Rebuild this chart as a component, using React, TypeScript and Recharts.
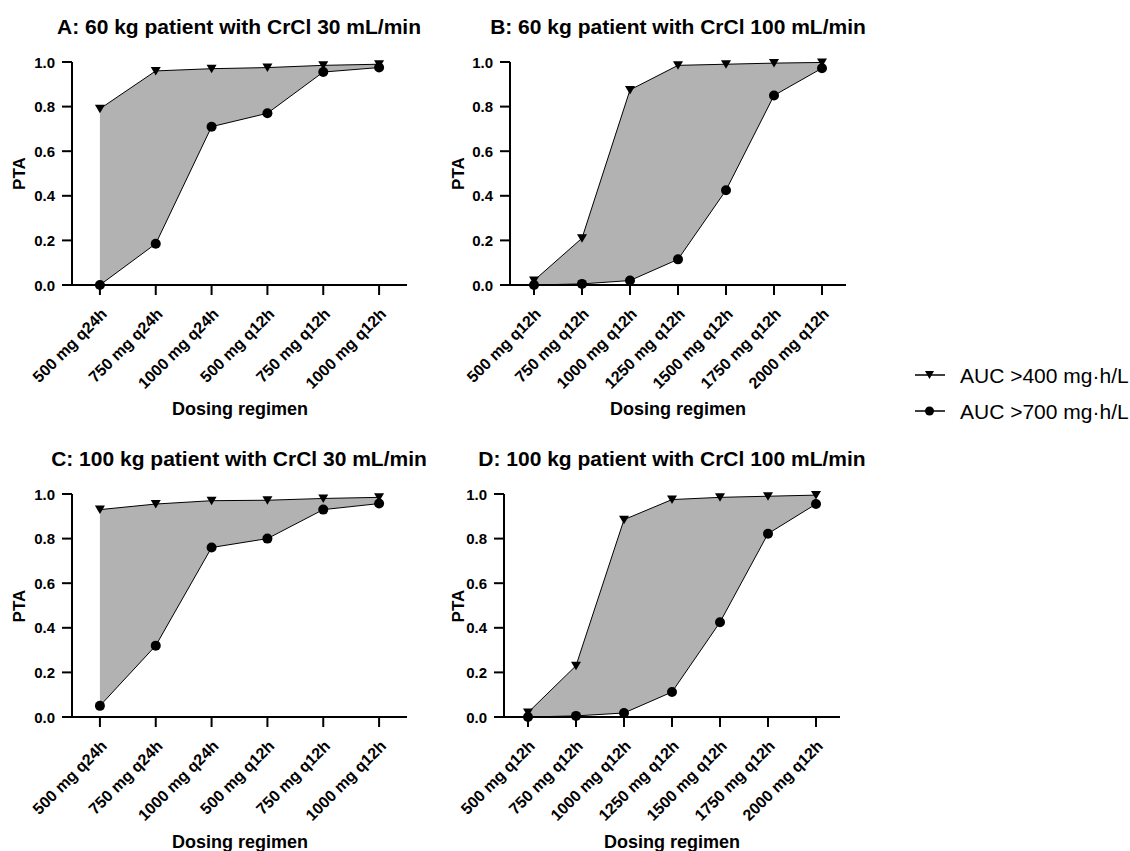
import React from 'react';
import { ComposedChart, Area, Line, XAxis, YAxis } from 'recharts';

const regimensQ24 = ['500 mg q24h', '750 mg q24h', '1000 mg q24h', '500 mg q12h', '750 mg q12h', '1000 mg q12h'];
const regimensQ12 = ['500 mg q12h', '750 mg q12h', '1000 mg q12h', '1250 mg q12h', '1500 mg q12h', '1750 mg q12h', '2000 mg q12h'];

const panelA400 = [0.79, 0.96, 0.97, 0.975, 0.985, 0.99];
const panelA700 = [0.0, 0.185, 0.71, 0.77, 0.955, 0.975];
const panelB400 = [0.02, 0.21, 0.875, 0.985, 0.99, 0.995, 0.998];
const panelB700 = [0.0, 0.005, 0.02, 0.115, 0.425, 0.85, 0.972];
const panelC400 = [0.93, 0.955, 0.97, 0.972, 0.98, 0.985];
const panelC700 = [0.05, 0.32, 0.76, 0.8, 0.93, 0.957];
const panelD400 = [0.02, 0.23, 0.885, 0.975, 0.985, 0.99, 0.995];
const panelD700 = [0.0, 0.005, 0.018, 0.112, 0.425, 0.822, 0.955];

const yTicks = [0, 0.2, 0.4, 0.6, 0.8, 1.0];

const titles = [
  'A: 60 kg patient with CrCl 30 mL/min',
  'B: 60 kg patient with CrCl 100 mL/min',
  'C: 100 kg patient with CrCl 30 mL/min',
  'D: 100 kg patient with CrCl 100 mL/min',
];
const legendLabels = ['AUC >400 mg\u00b7h/L', 'AUC >700 mg\u00b7h/L'];

const FONT = '"Liberation Sans", Arial, Helvetica, sans-serif';
const PLOT_H = 223;

const XTick = (props: any) => {
  const { x, y, payload } = props;
  return (
    <g transform={`translate(${x + 8},${y + 18})`}>
      <text
        x={0}
        y={0}
        textAnchor="end"
        transform="rotate(-45)"
        fontFamily={FONT}
        fontWeight="bold"
        fontSize={16}
        fill="#000"
      >
        {payload.value}
      </text>
    </g>
  );
};

const YTick = (props: any) => {
  const { x, y, payload } = props;
  return (
    <text
      x={x}
      y={y}
      dy={5.5}
      textAnchor="end"
      fontFamily={FONT}
      fontWeight="bold"
      fontSize={15}
      fill="#000"
    >
      {Number(payload.value).toFixed(1)}
    </text>
  );
};

const TriangleDot = (props: any) => {
  const { cx, cy, index } = props;
  if (cx == null || cy == null) return <g key={`t${index}`} />;
  return (
    <path
      key={`t${index}`}
      d={`M${cx - 5},${cy - 4} L${cx + 5},${cy - 4} L${cx},${cy + 4.5} Z`}
      fill="#000"
      stroke="none"
    />
  );
};

const CircleDot = (props: any) => {
  const { cx, cy, index } = props;
  if (cx == null || cy == null) return <g key={`c${index}`} />;
  return <circle key={`c${index}`} cx={cx} cy={cy} r={5} fill="#000" stroke="none" />;
};

type PanelProps = {
  plotLeft: number;
  plotTop: number;
  plotW: number;
  cats: string[];
  upper: number[];
  lower: number[];
};

const Panel = ({ plotLeft, plotTop, plotW, cats, upper, lower }: PanelProps) => {
  const data = cats.map((c, i) => ({
    regimen: c,
    auc400: upper[i],
    auc700: lower[i],
    range: [lower[i], upper[i]],
  }));
  const mTop = 20;
  const mLeft = 22;
  const yW = 50;
  const mRight = 20;
  const xH = 125;
  return (
    <div style={{ position: 'absolute', left: plotLeft - mLeft - yW, top: plotTop - mTop }}>
      <ComposedChart
        width={mLeft + yW + plotW + mRight}
        height={mTop + PLOT_H + xH}
        data={data}
        margin={{ top: mTop, right: mRight, left: mLeft, bottom: 0 }}
      >
        <XAxis
          dataKey="regimen"
          type="category"
          scale="band"
          interval={0}
          tickSize={10}
          height={xH}
          axisLine={{ stroke: '#000', strokeWidth: 2 }}
          tickLine={{ stroke: '#000', strokeWidth: 2 }}
          tick={<XTick />}
        />
        <YAxis
          type="number"
          domain={[0, 1]}
          ticks={yTicks}
          width={yW}
          tickSize={10}
          tickMargin={7}
          interval={0}
          axisLine={{ stroke: '#000', strokeWidth: 2 }}
          tickLine={{ stroke: '#000', strokeWidth: 2 }}
          tick={<YTick />}
        />
        <Area
          dataKey="range"
          type="linear"
          fill="#b2b2b2"
          fillOpacity={1}
          stroke="none"
          isAnimationActive={false}
          activeDot={false}
        />
        <Line
          dataKey="auc400"
          type="linear"
          stroke="#000"
          strokeWidth={1}
          dot={TriangleDot}
          activeDot={false}
          isAnimationActive={false}
        />
        <Line
          dataKey="auc700"
          type="linear"
          stroke="#000"
          strokeWidth={1}
          dot={CircleDot}
          activeDot={false}
          isAnimationActive={false}
        />
      </ComposedChart>
    </div>
  );
};

const Overlay = () => {
  const titleProps = { fontFamily: FONT, fontWeight: 'bold' as const, fontSize: 21, textAnchor: 'middle' as const, fill: '#000' };
  const xlabProps = { fontFamily: FONT, fontWeight: 'bold' as const, fontSize: 18, textAnchor: 'middle' as const, fill: '#000' };
  const ylab = (x: number, y: number) => (
    <text
      x={x}
      y={y}
      transform={`rotate(-90, ${x}, ${y})`}
      fontFamily={FONT}
      fontWeight="bold"
      fontSize={17}
      textAnchor="middle"
      fill="#000"
    >
      PTA
    </text>
  );
  return (
    <svg width={1130} height={851} style={{ position: 'absolute', left: 0, top: 0, pointerEvents: 'none' }}>
      <text x={239} y={34} {...titleProps}>{titles[0]}</text>
      <text x={678} y={34} {...titleProps}>{titles[1]}</text>
      <text x={239} y={466} {...titleProps}>{titles[2]}</text>
      <text x={672} y={466} {...titleProps}>{titles[3]}</text>

      {ylab(25, 173.5)}
      {ylab(464, 173.5)}
      {ylab(25, 606)}
      {ylab(464, 606)}

      <text x={240} y={415} {...xlabProps}>Dosing regimen</text>
      <text x={678} y={415} {...xlabProps}>Dosing regimen</text>
      <text x={240} y={848} {...xlabProps}>Dosing regimen</text>
      <text x={672} y={848} {...xlabProps}>Dosing regimen</text>

      <line x1={915} y1={375} x2={945} y2={375} stroke="#000" strokeWidth={1.5} />
      <path d="M925,371 L934,371 L929.5,379 Z" fill="#000" />
      <text x={960} y={382.5} fontFamily={FONT} fontSize={21} fill="#000">{legendLabels[0]}</text>

      <line x1={915} y1={411} x2={945} y2={411} stroke="#000" strokeWidth={1.5} />
      <circle cx={929.5} cy={411} r={4.5} fill="#000" />
      <text x={960} y={418.5} fontFamily={FONT} fontSize={21} fill="#000">{legendLabels[1]}</text>
    </svg>
  );
};

export default function App() {
  return (
    <div style={{ position: 'absolute', left: 0, top: 0, width: 1130, height: 851, background: '#fff', overflow: 'hidden' }}>
      <Panel plotLeft={72} plotTop={62} plotW={335} cats={regimensQ24} upper={panelA400} lower={panelA700} />
      <Panel plotLeft={510} plotTop={62} plotW={336} cats={regimensQ12} upper={panelB400} lower={panelB700} />
      <Panel plotLeft={72} plotTop={494} plotW={335} cats={regimensQ24} upper={panelC400} lower={panelC700} />
      <Panel plotLeft={504} plotTop={494} plotW={336} cats={regimensQ12} upper={panelD400} lower={panelD700} />
      <Overlay />
    </div>
  );
}
